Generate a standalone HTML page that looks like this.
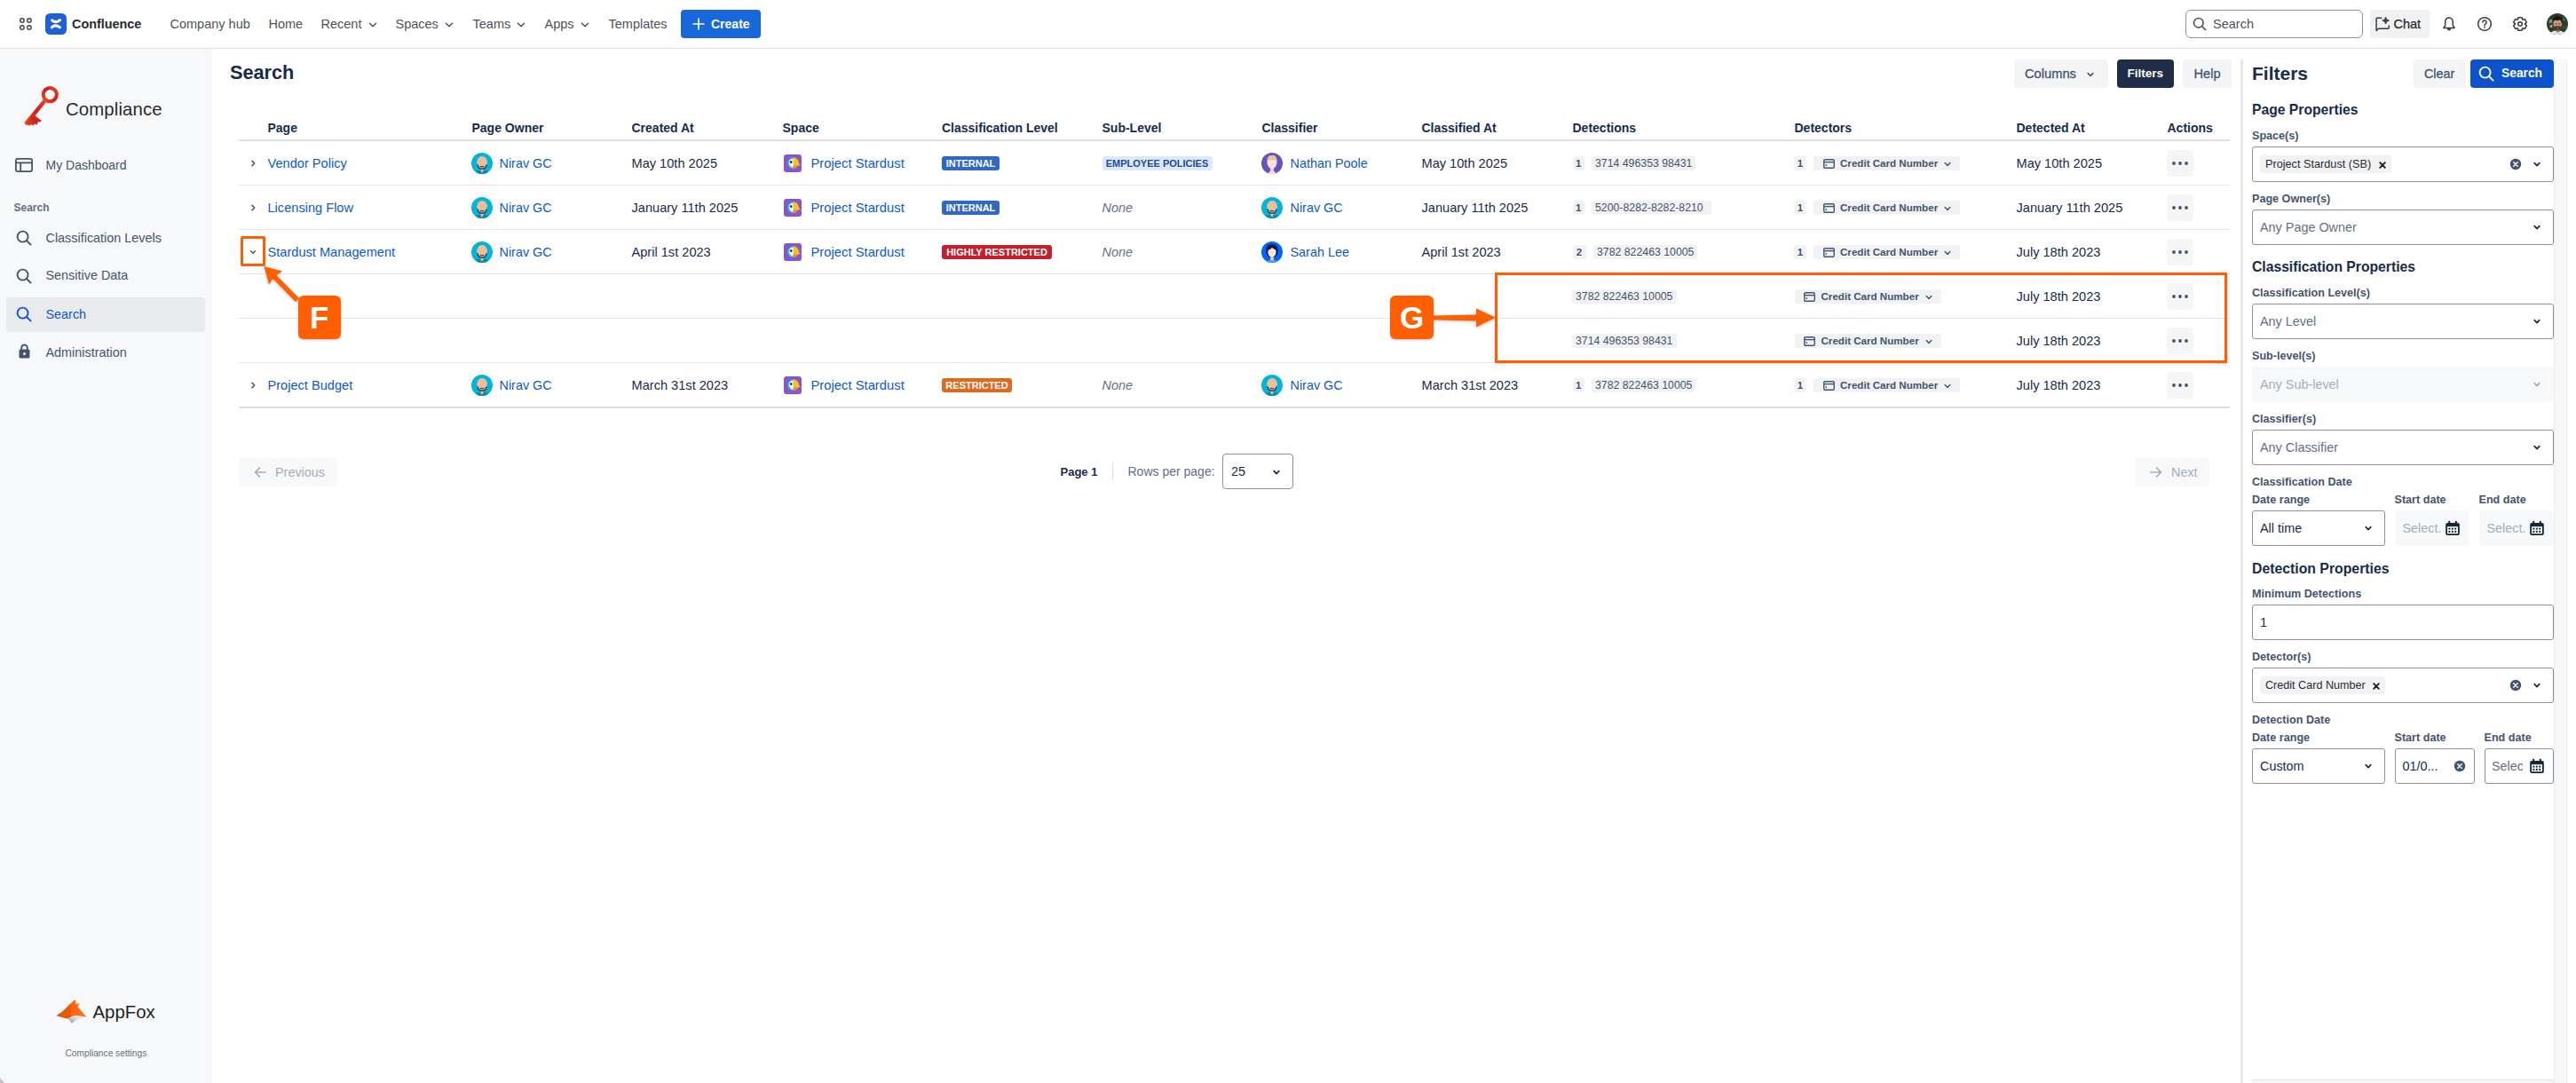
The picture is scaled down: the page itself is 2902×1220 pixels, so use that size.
<!DOCTYPE html>
<html><head><meta charset="utf-8"><title>Search - Compliance</title>
<style>
html,body{margin:0;padding:0;}
body{width:2902px;height:1220px;position:relative;overflow:hidden;background:#fff;font-family:"Liberation Sans",sans-serif;}
.t{position:absolute;white-space:nowrap;}
.r{position:absolute;}
</style></head><body>
<div class="r" style="left:0px;top:54px;width:2902px;height:1px;background:#dcdfe4"></div>
<svg class="r" style="left:19px;top:18px;" width="20" height="18" viewBox="0 0 20 18"><circle cx="5.9" cy="5" r="2.25" fill="none" stroke="#44474f" stroke-width="1.45"/><circle cx="5.9" cy="12.9" r="2.25" fill="none" stroke="#44474f" stroke-width="1.45"/><circle cx="13.9" cy="5" r="2.25" fill="none" stroke="#44474f" stroke-width="1.45"/><circle cx="13.9" cy="12.9" r="2.25" fill="none" stroke="#44474f" stroke-width="1.45"/></svg>
<svg class="r" style="left:51px;top:15px;" width="24" height="24" viewBox="0 0 24 24"><rect width="24" height="24" rx="5.5" fill="#1b61d8"/><path d="M7.6 7.9Q12.2 11.6 16.6 7.7" fill="none" stroke="#fff" stroke-width="3.1" stroke-linecap="round"/><path d="M7.3 15.8Q11.6 12.1 16.4 15.9" fill="none" stroke="#fff" stroke-width="3.1" stroke-linecap="round"/></svg>
<div class="t" style="left:81px;top:16.5px;height:21px;line-height:21px;font-size:14.4px;font-weight:700;color:#292a2e;">Confluence</div>
<div class="t" style="left:191.5px;top:16.5px;height:21px;line-height:21px;font-size:14.5px;font-weight:400;color:#505258;">Company hub</div>
<div class="t" style="left:302.5px;top:16.5px;height:21px;line-height:21px;font-size:14.5px;font-weight:400;color:#505258;">Home</div>
<div class="t" style="left:361.5px;top:16.5px;height:21px;line-height:21px;font-size:14.5px;font-weight:400;color:#505258;">Recent</div>
<svg class="r" style="left:414px;top:21.5px;" width="12" height="12" viewBox="0 0 12 12"><path d="M2.40 4.20 L6.00 7.80 L9.60 4.20" fill="none" stroke="#505258" stroke-width="1.5" stroke-linecap="round" stroke-linejoin="round"/></svg>
<div class="t" style="left:445.5px;top:16.5px;height:21px;line-height:21px;font-size:14.5px;font-weight:400;color:#505258;">Spaces</div>
<svg class="r" style="left:500px;top:21.5px;" width="12" height="12" viewBox="0 0 12 12"><path d="M2.40 4.20 L6.00 7.80 L9.60 4.20" fill="none" stroke="#505258" stroke-width="1.5" stroke-linecap="round" stroke-linejoin="round"/></svg>
<div class="t" style="left:532.5px;top:16.5px;height:21px;line-height:21px;font-size:14.5px;font-weight:400;color:#505258;">Teams</div>
<svg class="r" style="left:581px;top:21.5px;" width="12" height="12" viewBox="0 0 12 12"><path d="M2.40 4.20 L6.00 7.80 L9.60 4.20" fill="none" stroke="#505258" stroke-width="1.5" stroke-linecap="round" stroke-linejoin="round"/></svg>
<div class="t" style="left:613.5px;top:16.5px;height:21px;line-height:21px;font-size:14.5px;font-weight:400;color:#505258;">Apps</div>
<svg class="r" style="left:653px;top:21.5px;" width="12" height="12" viewBox="0 0 12 12"><path d="M2.40 4.20 L6.00 7.80 L9.60 4.20" fill="none" stroke="#505258" stroke-width="1.5" stroke-linecap="round" stroke-linejoin="round"/></svg>
<div class="t" style="left:685.5px;top:16.5px;height:21px;line-height:21px;font-size:14.5px;font-weight:400;color:#505258;">Templates</div>
<div class="r" style="left:767px;top:11px;width:90px;height:32px;background:#1868db;border-radius:4px"></div>
<svg class="r" style="left:780px;top:20px;" width="14" height="14" viewBox="0 0 14 14"><path d="M7 1v12M1 7h12" stroke="#fff" stroke-width="1.6" stroke-linecap="round"/></svg>
<div class="t" style="left:801px;top:16.5px;height:21px;line-height:21px;font-size:14px;font-weight:700;color:#fff;">Create</div>
<div class="r" style="left:2462px;top:11px;width:200px;height:32px;border:1px solid #8c8f97;border-radius:6px;box-sizing:border-box"></div>
<svg class="r" style="left:2470px;top:19px;" width="16" height="16" viewBox="0 0 16 16"><circle cx="6.8" cy="6.8" r="5.3" fill="none" stroke="#505258" stroke-width="1.6"/><path d="M10.8 10.8l3.8 3.8" stroke="#505258" stroke-width="1.6" stroke-linecap="round"/></svg>
<div class="t" style="left:2493px;top:16.5px;height:21px;line-height:21px;font-size:14.5px;font-weight:400;color:#505258;">Search</div>
<div class="r" style="left:2670px;top:11px;width:67px;height:32px;background:#f0f1f2;border-radius:4px"></div>
<svg class="r" style="left:2675px;top:18px;" width="18" height="18" viewBox="0 0 18 18"><path d="M8.3 2.2H3.2Q2.1 2.2 2.1 3.3V16.4L4.6 14.3H15.3Q16.3 14.3 16.3 13.3V10.6" fill="none" stroke="#3b3d42" stroke-width="1.5" stroke-linejoin="round"/><path d="M12.6 1.2Q13 4.6 16.4 5.1Q13 5.6 12.6 9Q12.2 5.6 8.8 5.1Q12.2 4.6 12.6 1.2z" fill="#3b3d42" stroke="#3b3d42" stroke-width="1" stroke-linejoin="round"/></svg>
<div class="t" style="left:2696.5px;top:16.5px;height:21px;line-height:21px;font-size:14.5px;font-weight:400;color:#292a2e;-webkit-text-stroke:0.25px #292a2e">Chat</div>
<svg class="r" style="left:2750px;top:18px;" width="18" height="18" viewBox="0 0 18 18"><path d="M9 1.9C6.2 1.9 4.7 4.1 4.7 6.9V10.6L2.9 13.5H15.1L13.3 10.6V6.9C13.3 4.1 11.8 1.9 9 1.9z" fill="none" stroke="#3b3d42" stroke-width="1.5" stroke-linejoin="round"/><path d="M7.2 14.3a1.8 1.8 0 0 0 3.6 0z" fill="#3b3d42" stroke="#3b3d42" stroke-width="1"/></svg>
<svg class="r" style="left:2790px;top:18px;" width="18" height="18" viewBox="0 0 18 18"><circle cx="9" cy="9" r="7.3" fill="none" stroke="#3b3d42" stroke-width="1.5"/><path d="M6.9 7.1a2.1 2.1 0 1 1 3.1 1.9c-0.6 0.4-1 0.8-1 1.5v0.5" fill="none" stroke="#3b3d42" stroke-width="1.5" stroke-linecap="round"/><circle cx="9" cy="12.9" r="0.9" fill="#3b3d42"/></svg>
<svg class="r" style="left:2829.5px;top:18px;" width="18" height="18" viewBox="0 0 18 18"><path d="M5.87 4.36 L7.03 1.66 L10.97 1.66 L12.13 4.36 L11.45 3.97 L14.37 3.63 L16.34 7.03 L14.59 9.39 L14.59 8.61 L16.34 10.97 L14.37 14.37 L11.45 14.03 L12.13 13.64 L10.97 16.34 L7.03 16.34 L5.87 13.64 L6.55 14.03 L3.63 14.37 L1.66 10.97 L3.41 8.61 L3.41 9.39 L1.66 7.03 L3.63 3.63 L6.55 3.97z" fill="none" stroke="#3b3d42" stroke-width="1.5" stroke-linejoin="round"/><circle cx="9" cy="9" r="2.3" fill="none" stroke="#3b3d42" stroke-width="1.5"/></svg>
<svg class="r" style="left:2869px;top:14.7px;" width="24" height="24" viewBox="0 0 24 24"><defs><clipPath id="av"><circle cx="12" cy="12" r="12"/></clipPath></defs><g clip-path="url(#av)"><rect width="24" height="24" fill="#2f3d28"/><circle cx="4.5" cy="9" r="2.2" fill="#7d8a78"/><circle cx="5" cy="14.5" r="1.6" fill="#a7ada3"/><circle cx="19.5" cy="7" r="1.8" fill="#556648"/><circle cx="20.5" cy="16" r="2" fill="#3f5034"/><path d="M3 24c1.2-3.2 4.5-4.6 9-4.6s7.8 1.4 9 4.6z" fill="#e6e5ee"/><path d="M10.5 16.5h4l0.4 4-2.4 1.3-2.4-1.3z" fill="#a0705a"/><ellipse cx="12.3" cy="12" rx="4.9" ry="6.2" fill="#c8977d"/><path d="M7 9.5c-0.3-4 2-6.5 5.5-6.5s5.7 2.4 5.3 6.7l-0.9 2.4c-0.2-2.5-0.9-4-1.8-4.6-1.8 0.6-4 0.6-6.3-0.1-0.8 0.7-1.2 1.6-1.3 3z" fill="#17161a"/><ellipse cx="10.6" cy="11.9" rx="1.1" ry="0.6" fill="#4a3a34"/><ellipse cx="14.3" cy="11.9" rx="1.1" ry="0.6" fill="#4a3a34"/><path d="M7.8 13.5c0.6 3.8 2.3 5.6 4.5 5.6s3.9-1.8 4.5-5.6c-0.8 1-1.6 1.3-2.4 1.3-1.3-0.6-2.9-0.6-4.2 0-0.8 0-1.6-0.3-2.4-1.3z" fill="#4a3328"/><ellipse cx="12.4" cy="16.6" rx="1.2" ry="0.6" fill="#c07070"/></g></svg>
<div class="r" style="left:0px;top:55px;width:239px;height:1165px;background:#f7f8f9"></div>
<svg class="r" style="left:20px;top:90px;" width="60" height="60" viewBox="0 0 60 60"><defs><linearGradient id="kg" x1="0" y1="1" x2="1" y2="0"><stop offset="0" stop-color="#ee4a17"/><stop offset="0.55" stop-color="#c81f1f"/><stop offset="1" stop-color="#e8491a"/></linearGradient></defs><circle cx="36.3" cy="16.6" r="7.6" fill="none" stroke="url(#kg)" stroke-width="4"/><path d="M30.8 23.2 L10 48.5" stroke="url(#kg)" stroke-width="4.4" stroke-linecap="round"/><path d="M18.5 39.5 L26.8 45.8 L25.2 47.6 L23 47 L21.6 50.8 L19.2 49.6 L17.4 51.4 L15.2 50.2 L13.2 51.6 L9 49.5z" fill="url(#kg)"/></svg>
<div class="t" style="left:74px;top:108.0px;height:30px;line-height:30px;font-size:20.4px;font-weight:400;color:#292a2e;letter-spacing:0.1px">Compliance</div>
<svg class="r" style="left:17px;top:178px;" width="20" height="16" viewBox="0 0 20 16"><rect x="0.9" y="0.9" width="18.2" height="14.2" rx="2" fill="none" stroke="#44546f" stroke-width="1.8"/><path d="M0.9 5.3h18.2M6.2 5.3v9.8" stroke="#44546f" stroke-width="1.8"/></svg>
<div class="t" style="left:51.5px;top:175.5px;height:21px;line-height:21px;font-size:14px;font-weight:400;color:#44546f;">My Dashboard</div>
<div class="t" style="left:15.5px;top:224.6px;height:18px;line-height:18px;font-size:12px;font-weight:700;color:#626f86;">Search</div>
<svg class="r" style="left:18px;top:259px;" width="18" height="18" viewBox="0 0 18 18"><circle cx="7.6" cy="7.6" r="6" fill="none" stroke="#44546f" stroke-width="1.9"/><path d="M12 12l4.6 4.6" stroke="#44546f" stroke-width="1.9" stroke-linecap="round"/></svg>
<div class="t" style="left:51.5px;top:257.5px;height:21px;line-height:21px;font-size:14.4px;font-weight:400;color:#44546f;">Classification Levels</div>
<svg class="r" style="left:18px;top:302px;" width="18" height="18" viewBox="0 0 18 18"><circle cx="7.6" cy="7.6" r="6" fill="none" stroke="#44546f" stroke-width="1.9"/><path d="M12 12l4.6 4.6" stroke="#44546f" stroke-width="1.9" stroke-linecap="round"/></svg>
<div class="t" style="left:51.5px;top:300.2px;height:21px;line-height:21px;font-size:14.4px;font-weight:400;color:#44546f;">Sensitive Data</div>
<div class="r" style="left:7px;top:334.5px;width:224px;height:39px;background:#e9eaee;border-radius:4px"></div>
<svg class="r" style="left:18px;top:345px;" width="18" height="18" viewBox="0 0 18 18"><circle cx="7.6" cy="7.6" r="6" fill="none" stroke="#0c55d0" stroke-width="1.9"/><path d="M12 12l4.6 4.6" stroke="#0c55d0" stroke-width="1.9" stroke-linecap="round"/></svg>
<div class="t" style="left:51.5px;top:343.5px;height:21px;line-height:21px;font-size:14.4px;font-weight:400;color:#0c55d0;">Search</div>
<svg class="r" style="left:21px;top:387px;" width="13" height="17" viewBox="0 0 13 17"><path d="M3.2 7V4.8a3.3 3.3 0 0 1 6.6 0V7" fill="none" stroke="#44546f" stroke-width="1.9"/><rect x="0.5" y="6.6" width="12" height="10" rx="1.6" fill="#44546f"/><circle cx="6.5" cy="11.6" r="1.5" fill="#f7f8f9"/></svg>
<div class="t" style="left:51.5px;top:386.5px;height:21px;line-height:21px;font-size:14.4px;font-weight:400;color:#44546f;">Administration</div>
<svg class="r" style="left:58px;top:1120px;" width="46" height="38" viewBox="0 0 46 38"><defs><linearGradient id="fg" x1="0" y1="0" x2="1" y2="0"><stop offset="0" stop-color="#e2550a"/><stop offset="0.45" stop-color="#ec5a06"/><stop offset="0.5" stop-color="#ff650a"/><stop offset="1" stop-color="#fb7426"/></linearGradient><linearGradient id="wg" x1="0" y1="1" x2="1" y2="0"><stop offset="0" stop-color="#8e8e8e"/><stop offset="0.6" stop-color="#dcdfe2"/><stop offset="1" stop-color="#f4f5f7"/></linearGradient></defs><path d="M5.3 24.2C10 21.5 13.5 18.5 17 15C21 11 24 8 27 6.1L27.4 11.2L31.9 10.2L29.5 13.7C33 18 36 22 40 25.6L26 23.8L18.2 27.7Z" fill="url(#fg)"/><path d="M18.6 27.6L23.3 33C26.5 29 32 26.8 38.5 26L26 24.2Z" fill="url(#wg)"/></svg>
<div class="t" style="left:104.5px;top:1126.0px;height:28px;line-height:28px;font-size:20.4px;font-weight:400;color:#1f1f1f;">AppFox</div>
<div class="t" style="left:73.5px;top:1180.0px;height:14px;line-height:14px;font-size:10.2px;font-weight:400;color:#6b6e76;">Compliance settings</div>
<div class="t" style="left:259px;top:67.0px;height:30px;line-height:30px;font-size:21.7px;font-weight:700;color:#172b4d;">Search</div>
<div class="r" style="left:2269px;top:67px;width:106px;height:32px;background:#f3f4f6;border-radius:4px"></div>
<div class="t" style="left:2281px;top:72.0px;height:22px;line-height:22px;font-size:14.7px;font-weight:400;color:#44546f;-webkit-text-stroke:0.3px #44546f">Columns</div>
<svg class="r" style="left:2350px;top:78.5px;" width="10" height="10" viewBox="0 0 10 10"><path d="M2.2 3.6L5 6.4 7.8 3.6" fill="none" stroke="#44546f" stroke-width="1.7" stroke-linecap="round" stroke-linejoin="round"/></svg>
<div class="r" style="left:2385px;top:67px;width:64px;height:32px;background:#1f2d48;border-radius:4px"></div>
<div class="t" style="left:2396.5px;top:73.0px;height:20px;line-height:20px;font-size:13.5px;font-weight:700;color:#fff;">Filters</div>
<div class="r" style="left:2459px;top:67px;width:55px;height:32px;background:#f3f4f6;border-radius:4px"></div>
<div class="t" style="left:2471.5px;top:72.5px;height:21px;line-height:21px;font-size:14.6px;font-weight:400;color:#44546f;-webkit-text-stroke:0.3px #44546f">Help</div>
<div class="t" style="left:301.5px;top:133.5px;height:21px;line-height:21px;font-size:14px;font-weight:700;color:#172b4d;">Page</div>
<div class="t" style="left:531.5px;top:133.5px;height:21px;line-height:21px;font-size:14px;font-weight:700;color:#172b4d;">Page Owner</div>
<div class="t" style="left:711.5px;top:133.5px;height:21px;line-height:21px;font-size:14px;font-weight:700;color:#172b4d;">Created At</div>
<div class="t" style="left:881.5px;top:133.5px;height:21px;line-height:21px;font-size:14px;font-weight:700;color:#172b4d;">Space</div>
<div class="t" style="left:1061px;top:133.5px;height:21px;line-height:21px;font-size:14px;font-weight:700;color:#172b4d;">Classification Level</div>
<div class="t" style="left:1241.5px;top:133.5px;height:21px;line-height:21px;font-size:14px;font-weight:700;color:#172b4d;">Sub-Level</div>
<div class="t" style="left:1421.5px;top:133.5px;height:21px;line-height:21px;font-size:14px;font-weight:700;color:#172b4d;">Classifier</div>
<div class="t" style="left:1601.5px;top:133.5px;height:21px;line-height:21px;font-size:14px;font-weight:700;color:#172b4d;">Classified At</div>
<div class="t" style="left:1771.5px;top:133.5px;height:21px;line-height:21px;font-size:14px;font-weight:700;color:#172b4d;">Detections</div>
<div class="t" style="left:2021.5px;top:133.5px;height:21px;line-height:21px;font-size:14px;font-weight:700;color:#172b4d;">Detectors</div>
<div class="t" style="left:2271.5px;top:133.5px;height:21px;line-height:21px;font-size:14px;font-weight:700;color:#172b4d;">Detected At</div>
<div class="t" style="left:2441.5px;top:133.5px;height:21px;line-height:21px;font-size:14px;font-weight:700;color:#172b4d;">Actions</div>
<div class="r" style="left:269px;top:157px;width:2243px;height:2px;background:#dcdfe4"></div>
<div class="r" style="left:269px;top:208px;width:2243px;height:1px;background:#e4e6ea"></div>
<div class="r" style="left:269px;top:258px;width:2243px;height:1px;background:#e4e6ea"></div>
<div class="r" style="left:269px;top:308px;width:2243px;height:1px;background:#e4e6ea"></div>
<div class="r" style="left:269px;top:358px;width:2243px;height:1px;background:#e4e6ea"></div>
<div class="r" style="left:269px;top:408px;width:2243px;height:1px;background:#e4e6ea"></div>
<div class="r" style="left:269px;top:458px;width:2243px;height:2px;background:#dcdfe4"></div>
<svg class="r" style="left:280px;top:179px;" width="10" height="10" viewBox="0 0 10 10"><path d="M4 2.4L6.7 5 4 7.6" fill="none" stroke="#44546f" stroke-width="1.55" stroke-linecap="round" stroke-linejoin="round"/></svg>
<div class="t" style="left:301.5px;top:173.5px;height:21px;line-height:21px;font-size:14.6px;font-weight:400;color:#0c58d4;">Vendor Policy</div>
<svg class="r" style="left:531px;top:172px;" width="24" height="24" viewBox="0 0 24 24"><defs><clipPath id="ca"><circle cx="12" cy="12" r="12"/></clipPath></defs><g clip-path="url(#ca)"><rect width="24" height="24" fill="#00b5d8"/><path d="M3 24.5L5.5 20.6 10 19.4 12 22.6 14 19.4 18.5 20.6 21 24.5z" fill="#0a8aa6"/><path d="M10.3 16.5h3.4v3.2L12 23l-1.7-3.3z" fill="#efbd92"/><ellipse cx="12.1" cy="10.8" rx="5.9" ry="6.7" fill="#ebbf99"/><path d="M7 13.4Q7.9 18.3 12.1 18.3Q16.3 18.3 17.2 13.4" fill="none" stroke="#344563" stroke-width="1.5"/><path d="M10 15.4Q12.1 16.2 14.2 15.4" fill="none" stroke="#344563" stroke-width="1.2"/></g></svg>
<div class="t" style="left:562.5px;top:173.5px;height:21px;line-height:21px;font-size:14.4px;font-weight:400;color:#0c58d4;">Nirav GC</div>
<div class="t" style="left:711.5px;top:173.5px;height:21px;line-height:21px;font-size:14.6px;font-weight:400;color:#172b4d;">May 10th 2025</div>
<svg class="r" style="left:883px;top:174px;" width="20" height="20" viewBox="0 0 20 20"><rect width="20" height="20" rx="3" fill="#8655cf"/><path d="M10.8 3.2a6.4 6.4 0 0 0 0 12.8z" fill="#2fd3c0"/><path d="M10.8 4.8a4.8 4.8 0 0 0 0 9.6z" fill="#fff"/><path d="M10.8 3.2c3.4 0.2 6 2.9 6.1 6.2l1.8 3.4-2.6-0.6c-1 2.2-3 3.7-5.3 3.8z" fill="#fbbf1f"/><path d="M10.8 12.2l4.6 0.6c-1 1.8-2.6 3-4.6 3.2z" fill="#f08a12"/><circle cx="8.2" cy="8.6" r="1.35" fill="#091e42"/></svg>
<div class="t" style="left:913.5px;top:173.0px;height:22px;line-height:22px;font-size:14.8px;font-weight:400;color:#0c58d4;">Project Stardust</div>
<div class="r" style="left:1061px;top:176px;width:65px;height:16px;background:#3068c2;border-radius:3px"></div>
<div class="t" style="left:1061px;top:176.0px;height:16px;line-height:16px;font-size:11px;font-weight:700;color:#fff;width:65px;text-align:center">INTERNAL</div>
<div class="r" style="left:1241.5px;top:176px;width:124px;height:16px;background:#dce8fb;border-radius:3px"></div>
<div class="t" style="left:1241.5px;top:176.0px;height:16px;line-height:16px;font-size:11px;font-weight:700;color:#1f4a99;width:124px;text-align:center">EMPLOYEE POLICIES</div>
<svg class="r" style="left:1421px;top:172px;" width="24" height="24" viewBox="0 0 24 24"><defs><clipPath id="cb"><circle cx="12" cy="12" r="12"/></clipPath></defs><g clip-path="url(#cb)"><rect width="24" height="24" fill="#6554c0"/><path d="M7.5 23c1-1.6 2.4-2.3 4.5-2.3s3.5 0.7 4.5 2.3l-0.5 1.5h-8z" fill="#fde1d8"/><path d="M10 15.5h4v6h-4z" fill="#f3cfc4"/><path d="M6.6 9.2c0-4.2 2.3-6.1 5.4-6.1s5.4 1.9 5.4 6.1v2.2c0 3.4-2.6 6.4-5.4 6.4s-5.4-3-5.4-6.4z" fill="#fde1d8"/><path d="M6.6 9.6c0-4.6 2.3-6.5 5.4-6.5s5.4 1.9 5.4 6.5c-1.2-1.2-3.2-1.6-5.4-1.6s-4.2 0.4-5.4 1.6z" fill="#eac08f"/></g></svg>
<div class="t" style="left:1453.5px;top:173.5px;height:21px;line-height:21px;font-size:14.4px;font-weight:400;color:#0c58d4;">Nathan Poole</div>
<div class="t" style="left:1601.5px;top:173.5px;height:21px;line-height:21px;font-size:14.6px;font-weight:400;color:#172b4d;">May 10th 2025</div>
<div class="r" style="left:1771.5px;top:176px;width:13.5px;height:16px;background:#f1f2f4;border-radius:3px"></div>
<div class="t" style="left:1771.5px;top:176.0px;height:16px;line-height:16px;font-size:11.5px;font-weight:700;color:#44546f;width:13.5px;text-align:center">1</div>
<div class="r" style="left:1793px;top:176px;width:117px;height:16px;background:#f1f2f4;border-radius:3px"></div>
<div class="t" style="left:1797px;top:176.0px;height:16px;line-height:16px;font-size:12.3px;font-weight:400;color:#44546f;">3714 496353 98431</div>
<div class="r" style="left:2021px;top:176px;width:14px;height:16px;background:#f1f2f4;border-radius:3px"></div>
<div class="t" style="left:2021px;top:176.0px;height:16px;line-height:16px;font-size:11.5px;font-weight:700;color:#44546f;width:14px;text-align:center">1</div>
<div class="r" style="left:2043px;top:176px;width:165px;height:16px;background:#f1f2f4;border-radius:3px"></div>
<svg class="r" style="left:2053.5px;top:178.5px;" width="13" height="11" viewBox="0 0 13 11"><rect x="0.75" y="0.75" width="11.5" height="9.5" rx="1.2" fill="none" stroke="#44546f" stroke-width="1.4"/><path d="M0.75 3.6h11.5" stroke="#44546f" stroke-width="1.4"/><rect x="2.4" y="6.3" width="1.6" height="1.6" fill="#44546f"/></svg>
<div class="t" style="left:2073px;top:176.0px;height:16px;line-height:16px;font-size:11.6px;font-weight:700;color:#44546f;">Credit Card Number</div>
<svg class="r" style="left:2189px;top:179.5px;" width="10" height="10" viewBox="0 0 10 10"><path d="M2.2 3.6L5 6.6 7.8 3.6" fill="none" stroke="#44546f" stroke-width="1.4" stroke-linecap="round" stroke-linejoin="round"/></svg>
<div class="t" style="left:2271.5px;top:173.5px;height:21px;line-height:21px;font-size:14.6px;font-weight:400;color:#172b4d;">May 10th 2025</div>
<div class="r" style="left:2441px;top:169px;width:30px;height:30px;background:#f4f5f7;border-radius:4px"></div>
<svg class="r" style="left:2446px;top:181px;" width="20" height="6" viewBox="0 0 20 6"><circle cx="3" cy="3" r="1.9" fill="#44546f"/><circle cx="10" cy="3" r="1.9" fill="#44546f"/><circle cx="17" cy="3" r="1.9" fill="#44546f"/></svg>
<svg class="r" style="left:280px;top:229px;" width="10" height="10" viewBox="0 0 10 10"><path d="M4 2.4L6.7 5 4 7.6" fill="none" stroke="#44546f" stroke-width="1.55" stroke-linecap="round" stroke-linejoin="round"/></svg>
<div class="t" style="left:301.5px;top:223.5px;height:21px;line-height:21px;font-size:14.6px;font-weight:400;color:#0c58d4;">Licensing Flow</div>
<svg class="r" style="left:531px;top:222px;" width="24" height="24" viewBox="0 0 24 24"><defs><clipPath id="ca"><circle cx="12" cy="12" r="12"/></clipPath></defs><g clip-path="url(#ca)"><rect width="24" height="24" fill="#00b5d8"/><path d="M3 24.5L5.5 20.6 10 19.4 12 22.6 14 19.4 18.5 20.6 21 24.5z" fill="#0a8aa6"/><path d="M10.3 16.5h3.4v3.2L12 23l-1.7-3.3z" fill="#efbd92"/><ellipse cx="12.1" cy="10.8" rx="5.9" ry="6.7" fill="#ebbf99"/><path d="M7 13.4Q7.9 18.3 12.1 18.3Q16.3 18.3 17.2 13.4" fill="none" stroke="#344563" stroke-width="1.5"/><path d="M10 15.4Q12.1 16.2 14.2 15.4" fill="none" stroke="#344563" stroke-width="1.2"/></g></svg>
<div class="t" style="left:562.5px;top:223.5px;height:21px;line-height:21px;font-size:14.4px;font-weight:400;color:#0c58d4;">Nirav GC</div>
<div class="t" style="left:711.5px;top:223.5px;height:21px;line-height:21px;font-size:14.6px;font-weight:400;color:#172b4d;">January 11th 2025</div>
<svg class="r" style="left:883px;top:224px;" width="20" height="20" viewBox="0 0 20 20"><rect width="20" height="20" rx="3" fill="#8655cf"/><path d="M10.8 3.2a6.4 6.4 0 0 0 0 12.8z" fill="#2fd3c0"/><path d="M10.8 4.8a4.8 4.8 0 0 0 0 9.6z" fill="#fff"/><path d="M10.8 3.2c3.4 0.2 6 2.9 6.1 6.2l1.8 3.4-2.6-0.6c-1 2.2-3 3.7-5.3 3.8z" fill="#fbbf1f"/><path d="M10.8 12.2l4.6 0.6c-1 1.8-2.6 3-4.6 3.2z" fill="#f08a12"/><circle cx="8.2" cy="8.6" r="1.35" fill="#091e42"/></svg>
<div class="t" style="left:913.5px;top:223.0px;height:22px;line-height:22px;font-size:14.8px;font-weight:400;color:#0c58d4;">Project Stardust</div>
<div class="r" style="left:1061px;top:226px;width:65px;height:16px;background:#3068c2;border-radius:3px"></div>
<div class="t" style="left:1061px;top:226.0px;height:16px;line-height:16px;font-size:11px;font-weight:700;color:#fff;width:65px;text-align:center">INTERNAL</div>
<div class="t" style="left:1241.5px;top:223.5px;height:21px;line-height:21px;font-size:14.4px;font-weight:400;color:#626f86;font-style:italic">None</div>
<svg class="r" style="left:1421px;top:222px;" width="24" height="24" viewBox="0 0 24 24"><defs><clipPath id="ca"><circle cx="12" cy="12" r="12"/></clipPath></defs><g clip-path="url(#ca)"><rect width="24" height="24" fill="#00b5d8"/><path d="M3 24.5L5.5 20.6 10 19.4 12 22.6 14 19.4 18.5 20.6 21 24.5z" fill="#0a8aa6"/><path d="M10.3 16.5h3.4v3.2L12 23l-1.7-3.3z" fill="#efbd92"/><ellipse cx="12.1" cy="10.8" rx="5.9" ry="6.7" fill="#ebbf99"/><path d="M7 13.4Q7.9 18.3 12.1 18.3Q16.3 18.3 17.2 13.4" fill="none" stroke="#344563" stroke-width="1.5"/><path d="M10 15.4Q12.1 16.2 14.2 15.4" fill="none" stroke="#344563" stroke-width="1.2"/></g></svg>
<div class="t" style="left:1453.5px;top:223.5px;height:21px;line-height:21px;font-size:14.4px;font-weight:400;color:#0c58d4;">Nirav GC</div>
<div class="t" style="left:1601.5px;top:223.5px;height:21px;line-height:21px;font-size:14.6px;font-weight:400;color:#172b4d;">January 11th 2025</div>
<div class="r" style="left:1771.5px;top:226px;width:13.5px;height:16px;background:#f1f2f4;border-radius:3px"></div>
<div class="t" style="left:1771.5px;top:226.0px;height:16px;line-height:16px;font-size:11.5px;font-weight:700;color:#44546f;width:13.5px;text-align:center">1</div>
<div class="r" style="left:1793px;top:226px;width:135px;height:16px;background:#f1f2f4;border-radius:3px"></div>
<div class="t" style="left:1797px;top:226.0px;height:16px;line-height:16px;font-size:12.3px;font-weight:400;color:#44546f;">5200-8282-8282-8210</div>
<div class="r" style="left:2021px;top:226px;width:14px;height:16px;background:#f1f2f4;border-radius:3px"></div>
<div class="t" style="left:2021px;top:226.0px;height:16px;line-height:16px;font-size:11.5px;font-weight:700;color:#44546f;width:14px;text-align:center">1</div>
<div class="r" style="left:2043px;top:226px;width:165px;height:16px;background:#f1f2f4;border-radius:3px"></div>
<svg class="r" style="left:2053.5px;top:228.5px;" width="13" height="11" viewBox="0 0 13 11"><rect x="0.75" y="0.75" width="11.5" height="9.5" rx="1.2" fill="none" stroke="#44546f" stroke-width="1.4"/><path d="M0.75 3.6h11.5" stroke="#44546f" stroke-width="1.4"/><rect x="2.4" y="6.3" width="1.6" height="1.6" fill="#44546f"/></svg>
<div class="t" style="left:2073px;top:226.0px;height:16px;line-height:16px;font-size:11.6px;font-weight:700;color:#44546f;">Credit Card Number</div>
<svg class="r" style="left:2189px;top:229.5px;" width="10" height="10" viewBox="0 0 10 10"><path d="M2.2 3.6L5 6.6 7.8 3.6" fill="none" stroke="#44546f" stroke-width="1.4" stroke-linecap="round" stroke-linejoin="round"/></svg>
<div class="t" style="left:2271.5px;top:223.5px;height:21px;line-height:21px;font-size:14.6px;font-weight:400;color:#172b4d;">January 11th 2025</div>
<div class="r" style="left:2441px;top:219px;width:30px;height:30px;background:#f4f5f7;border-radius:4px"></div>
<svg class="r" style="left:2446px;top:231px;" width="20" height="6" viewBox="0 0 20 6"><circle cx="3" cy="3" r="1.9" fill="#44546f"/><circle cx="10" cy="3" r="1.9" fill="#44546f"/><circle cx="17" cy="3" r="1.9" fill="#44546f"/></svg>
<svg class="r" style="left:280px;top:279px;" width="10" height="10" viewBox="0 0 10 10"><path d="M2.5 3.7L5 6.2 7.5 3.7" fill="none" stroke="#44546f" stroke-width="1.4" stroke-linecap="round" stroke-linejoin="round"/></svg>
<div class="t" style="left:301.5px;top:273.5px;height:21px;line-height:21px;font-size:14.6px;font-weight:400;color:#0c58d4;">Stardust Management</div>
<svg class="r" style="left:531px;top:272px;" width="24" height="24" viewBox="0 0 24 24"><defs><clipPath id="ca"><circle cx="12" cy="12" r="12"/></clipPath></defs><g clip-path="url(#ca)"><rect width="24" height="24" fill="#00b5d8"/><path d="M3 24.5L5.5 20.6 10 19.4 12 22.6 14 19.4 18.5 20.6 21 24.5z" fill="#0a8aa6"/><path d="M10.3 16.5h3.4v3.2L12 23l-1.7-3.3z" fill="#efbd92"/><ellipse cx="12.1" cy="10.8" rx="5.9" ry="6.7" fill="#ebbf99"/><path d="M7 13.4Q7.9 18.3 12.1 18.3Q16.3 18.3 17.2 13.4" fill="none" stroke="#344563" stroke-width="1.5"/><path d="M10 15.4Q12.1 16.2 14.2 15.4" fill="none" stroke="#344563" stroke-width="1.2"/></g></svg>
<div class="t" style="left:562.5px;top:273.5px;height:21px;line-height:21px;font-size:14.4px;font-weight:400;color:#0c58d4;">Nirav GC</div>
<div class="t" style="left:711.5px;top:273.5px;height:21px;line-height:21px;font-size:14.6px;font-weight:400;color:#172b4d;">April 1st 2023</div>
<svg class="r" style="left:883px;top:274px;" width="20" height="20" viewBox="0 0 20 20"><rect width="20" height="20" rx="3" fill="#8655cf"/><path d="M10.8 3.2a6.4 6.4 0 0 0 0 12.8z" fill="#2fd3c0"/><path d="M10.8 4.8a4.8 4.8 0 0 0 0 9.6z" fill="#fff"/><path d="M10.8 3.2c3.4 0.2 6 2.9 6.1 6.2l1.8 3.4-2.6-0.6c-1 2.2-3 3.7-5.3 3.8z" fill="#fbbf1f"/><path d="M10.8 12.2l4.6 0.6c-1 1.8-2.6 3-4.6 3.2z" fill="#f08a12"/><circle cx="8.2" cy="8.6" r="1.35" fill="#091e42"/></svg>
<div class="t" style="left:913.5px;top:273.0px;height:22px;line-height:22px;font-size:14.8px;font-weight:400;color:#0c58d4;">Project Stardust</div>
<div class="r" style="left:1061px;top:276px;width:124px;height:16px;background:#c2202d;border-radius:3px"></div>
<div class="t" style="left:1061px;top:276.0px;height:16px;line-height:16px;font-size:11px;font-weight:700;color:#fff;width:124px;text-align:center">HIGHLY RESTRICTED</div>
<div class="t" style="left:1241.5px;top:273.5px;height:21px;line-height:21px;font-size:14.4px;font-weight:400;color:#626f86;font-style:italic">None</div>
<svg class="r" style="left:1421px;top:272px;" width="24" height="24" viewBox="0 0 24 24"><defs><clipPath id="cc"><circle cx="12" cy="12" r="12"/></clipPath></defs><g clip-path="url(#cc)"><rect width="24" height="24" fill="#0065ff"/><path d="M5 24.5c1-2.6 3.2-3.7 7-3.7s6 1.1 7 3.7z" fill="#4c9aff"/><path d="M10.2 16h3.6v5.2h-3.6z" fill="#f2cfc3"/><path d="M5.4 12c-0.8-5.8 2-9 6.6-9s7.4 3.2 6.6 9c-0.3 2.6-1.6 4.5-3 5.6h-7.2c-1.4-1.1-2.7-3-3-5.6z" fill="#091e42"/><path d="M7.4 11.5c0.2-1.4 0.9-2.2 2.2-2.7 1.2-0.4 2-1.2 2.4-2.3 0.6 1.3 1.8 2.2 3.4 2.4 0.8 0.5 1.2 1.4 1.2 2.6 0 3.5-2.1 6.3-4.6 6.3s-4.8-2.8-4.6-6.3z" fill="#fde1d8"/></g></svg>
<div class="t" style="left:1453.5px;top:273.5px;height:21px;line-height:21px;font-size:14.4px;font-weight:400;color:#0c58d4;">Sarah Lee</div>
<div class="t" style="left:1601.5px;top:273.5px;height:21px;line-height:21px;font-size:14.6px;font-weight:400;color:#172b4d;">April 1st 2023</div>
<div class="r" style="left:1771.5px;top:276px;width:15px;height:16px;background:#f1f2f4;border-radius:3px"></div>
<div class="t" style="left:1771.5px;top:276.0px;height:16px;line-height:16px;font-size:11.5px;font-weight:700;color:#44546f;width:15px;text-align:center">2</div>
<div class="r" style="left:1795px;top:276px;width:117px;height:16px;background:#f1f2f4;border-radius:3px"></div>
<div class="t" style="left:1799px;top:276.0px;height:16px;line-height:16px;font-size:12.3px;font-weight:400;color:#44546f;">3782 822463 10005</div>
<div class="r" style="left:2021px;top:276px;width:14px;height:16px;background:#f1f2f4;border-radius:3px"></div>
<div class="t" style="left:2021px;top:276.0px;height:16px;line-height:16px;font-size:11.5px;font-weight:700;color:#44546f;width:14px;text-align:center">1</div>
<div class="r" style="left:2043px;top:276px;width:165px;height:16px;background:#f1f2f4;border-radius:3px"></div>
<svg class="r" style="left:2053.5px;top:278.5px;" width="13" height="11" viewBox="0 0 13 11"><rect x="0.75" y="0.75" width="11.5" height="9.5" rx="1.2" fill="none" stroke="#44546f" stroke-width="1.4"/><path d="M0.75 3.6h11.5" stroke="#44546f" stroke-width="1.4"/><rect x="2.4" y="6.3" width="1.6" height="1.6" fill="#44546f"/></svg>
<div class="t" style="left:2073px;top:276.0px;height:16px;line-height:16px;font-size:11.6px;font-weight:700;color:#44546f;">Credit Card Number</div>
<svg class="r" style="left:2189px;top:279.5px;" width="10" height="10" viewBox="0 0 10 10"><path d="M2.2 3.6L5 6.6 7.8 3.6" fill="none" stroke="#44546f" stroke-width="1.4" stroke-linecap="round" stroke-linejoin="round"/></svg>
<div class="t" style="left:2271.5px;top:273.5px;height:21px;line-height:21px;font-size:14.6px;font-weight:400;color:#172b4d;">July 18th 2023</div>
<div class="r" style="left:2441px;top:269px;width:30px;height:30px;background:#f4f5f7;border-radius:4px"></div>
<svg class="r" style="left:2446px;top:281px;" width="20" height="6" viewBox="0 0 20 6"><circle cx="3" cy="3" r="1.9" fill="#44546f"/><circle cx="10" cy="3" r="1.9" fill="#44546f"/><circle cx="17" cy="3" r="1.9" fill="#44546f"/></svg>
<svg class="r" style="left:280px;top:429px;" width="10" height="10" viewBox="0 0 10 10"><path d="M4 2.4L6.7 5 4 7.6" fill="none" stroke="#44546f" stroke-width="1.55" stroke-linecap="round" stroke-linejoin="round"/></svg>
<div class="t" style="left:301.5px;top:423.5px;height:21px;line-height:21px;font-size:14.6px;font-weight:400;color:#0c58d4;">Project Budget</div>
<svg class="r" style="left:531px;top:422px;" width="24" height="24" viewBox="0 0 24 24"><defs><clipPath id="ca"><circle cx="12" cy="12" r="12"/></clipPath></defs><g clip-path="url(#ca)"><rect width="24" height="24" fill="#00b5d8"/><path d="M3 24.5L5.5 20.6 10 19.4 12 22.6 14 19.4 18.5 20.6 21 24.5z" fill="#0a8aa6"/><path d="M10.3 16.5h3.4v3.2L12 23l-1.7-3.3z" fill="#efbd92"/><ellipse cx="12.1" cy="10.8" rx="5.9" ry="6.7" fill="#ebbf99"/><path d="M7 13.4Q7.9 18.3 12.1 18.3Q16.3 18.3 17.2 13.4" fill="none" stroke="#344563" stroke-width="1.5"/><path d="M10 15.4Q12.1 16.2 14.2 15.4" fill="none" stroke="#344563" stroke-width="1.2"/></g></svg>
<div class="t" style="left:562.5px;top:423.5px;height:21px;line-height:21px;font-size:14.4px;font-weight:400;color:#0c58d4;">Nirav GC</div>
<div class="t" style="left:711.5px;top:423.5px;height:21px;line-height:21px;font-size:14.6px;font-weight:400;color:#172b4d;">March 31st 2023</div>
<svg class="r" style="left:883px;top:424px;" width="20" height="20" viewBox="0 0 20 20"><rect width="20" height="20" rx="3" fill="#8655cf"/><path d="M10.8 3.2a6.4 6.4 0 0 0 0 12.8z" fill="#2fd3c0"/><path d="M10.8 4.8a4.8 4.8 0 0 0 0 9.6z" fill="#fff"/><path d="M10.8 3.2c3.4 0.2 6 2.9 6.1 6.2l1.8 3.4-2.6-0.6c-1 2.2-3 3.7-5.3 3.8z" fill="#fbbf1f"/><path d="M10.8 12.2l4.6 0.6c-1 1.8-2.6 3-4.6 3.2z" fill="#f08a12"/><circle cx="8.2" cy="8.6" r="1.35" fill="#091e42"/></svg>
<div class="t" style="left:913.5px;top:423.0px;height:22px;line-height:22px;font-size:14.8px;font-weight:400;color:#0c58d4;">Project Stardust</div>
<div class="r" style="left:1061px;top:426px;width:79px;height:16px;background:#de6a21;border-radius:3px"></div>
<div class="t" style="left:1061px;top:426.0px;height:16px;line-height:16px;font-size:11px;font-weight:700;color:#fff;width:79px;text-align:center">RESTRICTED</div>
<div class="t" style="left:1241.5px;top:423.5px;height:21px;line-height:21px;font-size:14.4px;font-weight:400;color:#626f86;font-style:italic">None</div>
<svg class="r" style="left:1421px;top:422px;" width="24" height="24" viewBox="0 0 24 24"><defs><clipPath id="ca"><circle cx="12" cy="12" r="12"/></clipPath></defs><g clip-path="url(#ca)"><rect width="24" height="24" fill="#00b5d8"/><path d="M3 24.5L5.5 20.6 10 19.4 12 22.6 14 19.4 18.5 20.6 21 24.5z" fill="#0a8aa6"/><path d="M10.3 16.5h3.4v3.2L12 23l-1.7-3.3z" fill="#efbd92"/><ellipse cx="12.1" cy="10.8" rx="5.9" ry="6.7" fill="#ebbf99"/><path d="M7 13.4Q7.9 18.3 12.1 18.3Q16.3 18.3 17.2 13.4" fill="none" stroke="#344563" stroke-width="1.5"/><path d="M10 15.4Q12.1 16.2 14.2 15.4" fill="none" stroke="#344563" stroke-width="1.2"/></g></svg>
<div class="t" style="left:1453.5px;top:423.5px;height:21px;line-height:21px;font-size:14.4px;font-weight:400;color:#0c58d4;">Nirav GC</div>
<div class="t" style="left:1601.5px;top:423.5px;height:21px;line-height:21px;font-size:14.6px;font-weight:400;color:#172b4d;">March 31st 2023</div>
<div class="r" style="left:1771.5px;top:426px;width:13.5px;height:16px;background:#f1f2f4;border-radius:3px"></div>
<div class="t" style="left:1771.5px;top:426.0px;height:16px;line-height:16px;font-size:11.5px;font-weight:700;color:#44546f;width:13.5px;text-align:center">1</div>
<div class="r" style="left:1793px;top:426px;width:117px;height:16px;background:#f1f2f4;border-radius:3px"></div>
<div class="t" style="left:1797px;top:426.0px;height:16px;line-height:16px;font-size:12.3px;font-weight:400;color:#44546f;">3782 822463 10005</div>
<div class="r" style="left:2021px;top:426px;width:14px;height:16px;background:#f1f2f4;border-radius:3px"></div>
<div class="t" style="left:2021px;top:426.0px;height:16px;line-height:16px;font-size:11.5px;font-weight:700;color:#44546f;width:14px;text-align:center">1</div>
<div class="r" style="left:2043px;top:426px;width:165px;height:16px;background:#f1f2f4;border-radius:3px"></div>
<svg class="r" style="left:2053.5px;top:428.5px;" width="13" height="11" viewBox="0 0 13 11"><rect x="0.75" y="0.75" width="11.5" height="9.5" rx="1.2" fill="none" stroke="#44546f" stroke-width="1.4"/><path d="M0.75 3.6h11.5" stroke="#44546f" stroke-width="1.4"/><rect x="2.4" y="6.3" width="1.6" height="1.6" fill="#44546f"/></svg>
<div class="t" style="left:2073px;top:426.0px;height:16px;line-height:16px;font-size:11.6px;font-weight:700;color:#44546f;">Credit Card Number</div>
<svg class="r" style="left:2189px;top:429.5px;" width="10" height="10" viewBox="0 0 10 10"><path d="M2.2 3.6L5 6.6 7.8 3.6" fill="none" stroke="#44546f" stroke-width="1.4" stroke-linecap="round" stroke-linejoin="round"/></svg>
<div class="t" style="left:2271.5px;top:423.5px;height:21px;line-height:21px;font-size:14.6px;font-weight:400;color:#172b4d;">July 18th 2023</div>
<div class="r" style="left:2441px;top:419px;width:30px;height:30px;background:#f4f5f7;border-radius:4px"></div>
<svg class="r" style="left:2446px;top:431px;" width="20" height="6" viewBox="0 0 20 6"><circle cx="3" cy="3" r="1.9" fill="#44546f"/><circle cx="10" cy="3" r="1.9" fill="#44546f"/><circle cx="17" cy="3" r="1.9" fill="#44546f"/></svg>
<div class="r" style="left:1771px;top:326px;width:118px;height:16px;background:#f1f2f4;border-radius:3px"></div>
<div class="t" style="left:1775px;top:326.0px;height:16px;line-height:16px;font-size:12.3px;font-weight:400;color:#44546f;">3782 822463 10005</div>
<div class="r" style="left:2021.5px;top:326px;width:165px;height:16px;background:#f1f2f4;border-radius:3px"></div>
<svg class="r" style="left:2032.0px;top:328.5px;" width="13" height="11" viewBox="0 0 13 11"><rect x="0.75" y="0.75" width="11.5" height="9.5" rx="1.2" fill="none" stroke="#44546f" stroke-width="1.4"/><path d="M0.75 3.6h11.5" stroke="#44546f" stroke-width="1.4"/><rect x="2.4" y="6.3" width="1.6" height="1.6" fill="#44546f"/></svg>
<div class="t" style="left:2051.5px;top:326.0px;height:16px;line-height:16px;font-size:11.6px;font-weight:700;color:#44546f;">Credit Card Number</div>
<svg class="r" style="left:2167.5px;top:329.5px;" width="10" height="10" viewBox="0 0 10 10"><path d="M2.2 3.6L5 6.6 7.8 3.6" fill="none" stroke="#44546f" stroke-width="1.4" stroke-linecap="round" stroke-linejoin="round"/></svg>
<div class="t" style="left:2271.5px;top:323.5px;height:21px;line-height:21px;font-size:14.6px;font-weight:400;color:#172b4d;">July 18th 2023</div>
<div class="r" style="left:2441px;top:319px;width:30px;height:30px;background:#f4f5f7;border-radius:4px"></div>
<svg class="r" style="left:2446px;top:331px;" width="20" height="6" viewBox="0 0 20 6"><circle cx="3" cy="3" r="1.9" fill="#44546f"/><circle cx="10" cy="3" r="1.9" fill="#44546f"/><circle cx="17" cy="3" r="1.9" fill="#44546f"/></svg>
<div class="r" style="left:1771px;top:376px;width:118px;height:16px;background:#f1f2f4;border-radius:3px"></div>
<div class="t" style="left:1775px;top:376.0px;height:16px;line-height:16px;font-size:12.3px;font-weight:400;color:#44546f;">3714 496353 98431</div>
<div class="r" style="left:2021.5px;top:376px;width:165px;height:16px;background:#f1f2f4;border-radius:3px"></div>
<svg class="r" style="left:2032.0px;top:378.5px;" width="13" height="11" viewBox="0 0 13 11"><rect x="0.75" y="0.75" width="11.5" height="9.5" rx="1.2" fill="none" stroke="#44546f" stroke-width="1.4"/><path d="M0.75 3.6h11.5" stroke="#44546f" stroke-width="1.4"/><rect x="2.4" y="6.3" width="1.6" height="1.6" fill="#44546f"/></svg>
<div class="t" style="left:2051.5px;top:376.0px;height:16px;line-height:16px;font-size:11.6px;font-weight:700;color:#44546f;">Credit Card Number</div>
<svg class="r" style="left:2167.5px;top:379.5px;" width="10" height="10" viewBox="0 0 10 10"><path d="M2.2 3.6L5 6.6 7.8 3.6" fill="none" stroke="#44546f" stroke-width="1.4" stroke-linecap="round" stroke-linejoin="round"/></svg>
<div class="t" style="left:2271.5px;top:373.5px;height:21px;line-height:21px;font-size:14.6px;font-weight:400;color:#172b4d;">July 18th 2023</div>
<div class="r" style="left:2441px;top:369px;width:30px;height:30px;background:#f4f5f7;border-radius:4px"></div>
<svg class="r" style="left:2446px;top:381px;" width="20" height="6" viewBox="0 0 20 6"><circle cx="3" cy="3" r="1.9" fill="#44546f"/><circle cx="10" cy="3" r="1.9" fill="#44546f"/><circle cx="17" cy="3" r="1.9" fill="#44546f"/></svg>
<div class="r" style="left:269px;top:516px;width:111px;height:32px;background:#f7f8f9;border-radius:4px"></div>
<svg class="r" style="left:285px;top:524px;" width="16" height="16" viewBox="0 0 16 16"><path d="M14 8H2.5M7.5 3L2.5 8l5 5" fill="none" stroke="#a5adba" stroke-width="1.7" stroke-linecap="round" stroke-linejoin="round"/></svg>
<div class="t" style="left:310px;top:521.5px;height:21px;line-height:21px;font-size:14.4px;font-weight:400;color:#a5adba;">Previous</div>
<div class="t" style="left:1194.5px;top:521.5px;height:19px;line-height:19px;font-size:13px;font-weight:700;color:#172b4d;">Page 1</div>
<div class="r" style="left:1253px;top:521px;width:1px;height:20px;background:#dcdfe4"></div>
<div class="t" style="left:1270.5px;top:520.5px;height:21px;line-height:21px;font-size:14px;font-weight:400;color:#626f86;">Rows per page:</div>
<div class="r" style="left:1377px;top:511px;width:80px;height:40px;border:1.5px solid #8590a2;border-radius:4px;box-sizing:border-box"></div>
<div class="t" style="left:1387px;top:520.5px;height:21px;line-height:21px;font-size:14.4px;font-weight:400;color:#172b4d;">25</div>
<svg class="r" style="left:1433px;top:526.5px;" width="10" height="10" viewBox="0 0 10 10"><path d="M2.2 3.6L5 6.6 7.8 3.6" fill="none" stroke="#172b4d" stroke-width="1.7" stroke-linecap="round" stroke-linejoin="round"/></svg>
<div class="r" style="left:2405px;top:516px;width:84px;height:32px;background:#f7f8f9;border-radius:4px"></div>
<svg class="r" style="left:2421px;top:524px;" width="16" height="16" viewBox="0 0 16 16"><path d="M2 8h11.5M8.5 3l5 5-5 5" fill="none" stroke="#a5adba" stroke-width="1.7" stroke-linecap="round" stroke-linejoin="round"/></svg>
<div class="t" style="left:2446px;top:521.5px;height:21px;line-height:21px;font-size:14.4px;font-weight:400;color:#a5adba;">Next</div>
<div class="r" style="left:2524px;top:67px;width:3px;height:1153px;background:#e6e7eb"></div>
<div class="t" style="left:2537px;top:68.0px;height:30px;line-height:30px;font-size:21px;font-weight:700;color:#172b4d;">Filters</div>
<div class="r" style="left:2719px;top:67px;width:59px;height:32px;background:#f3f4f6;border-radius:4px"></div>
<div class="t" style="left:2731px;top:72.5px;height:21px;line-height:21px;font-size:14.3px;font-weight:400;color:#44546f;-webkit-text-stroke:0.3px #44546f">Clear</div>
<div class="r" style="left:2783px;top:67px;width:94px;height:32px;background:#0c52cc;border-radius:4px"></div>
<svg class="r" style="left:2792px;top:74px;" width="18" height="18" viewBox="0 0 18 18"><circle cx="7.6" cy="7.6" r="6" fill="none" stroke="#fff" stroke-width="1.9"/><path d="M12 12l4.6 4.6" stroke="#fff" stroke-width="1.9" stroke-linecap="round"/></svg>
<div class="t" style="left:2818px;top:73.0px;height:20px;line-height:20px;font-size:13.8px;font-weight:700;color:#fff;">Search</div>
<div class="r" style="left:2877px;top:67px;width:15px;height:1153px;background:#f7f7f7;border-left:1px solid #ececec;border-right:1px solid #ececec;box-sizing:border-box"></div>
<div class="r" style="left:2537px;top:1216px;width:340px;height:4px;background:#f7f7f7;border-top:1px solid #e2e2e2;box-sizing:border-box"></div>
<div class="t" style="left:2537px;top:113.0px;height:22px;line-height:22px;font-size:15.7px;font-weight:700;color:#172b4d;">Page Properties</div>
<div class="t" style="left:2537px;top:144.2px;height:18px;line-height:18px;font-size:12.6px;font-weight:700;color:#44546f;">Space(s)</div>
<div class="r" style="left:2537px;top:165px;width:340px;height:40px;border:1.5px solid #8590a2;border-radius:3px;box-sizing:border-box;background:#fff"></div>
<svg class="r" style="left:2853px;top:180px;" width="10" height="10" viewBox="0 0 10 10"><path d="M2.2 3.6L5 6.6 7.8 3.6" fill="none" stroke="#172b4d" stroke-width="1.7" stroke-linecap="round" stroke-linejoin="round"/></svg>
<div class="r" style="left:2546px;top:175px;width:148px;height:20px;background:#f1f2f4;border-radius:3px"></div>
<div class="t" style="left:2552px;top:176.0px;height:18px;line-height:18px;font-size:12.7px;font-weight:400;color:#292a2e;">Project Stardust (SB)</div>
<svg class="r" style="left:2680px;top:181.5px;" width="8" height="8" viewBox="0 0 8 8"><path d="M1.2 1.2l5.6 5.6M6.8 1.2l-5.6 5.6" stroke="#1f1f1f" stroke-width="1.9" stroke-linecap="round"/></svg>
<svg class="r" style="left:2827px;top:178px;" width="14" height="14" viewBox="0 0 14 14"><circle cx="7" cy="7" r="6.2" fill="#44546f"/><path d="M4.8 4.8l4.4 4.4M9.2 4.8l-4.4 4.4" stroke="#fff" stroke-width="1.5" stroke-linecap="round"/></svg>
<div class="t" style="left:2537px;top:215.2px;height:18px;line-height:18px;font-size:12.6px;font-weight:700;color:#44546f;">Page Owner(s)</div>
<div class="r" style="left:2537px;top:236px;width:340px;height:40px;border:1.5px solid #8590a2;border-radius:3px;box-sizing:border-box;background:#fff"></div>
<div class="t" style="left:2546px;top:246.0px;height:21px;line-height:21px;font-size:14.4px;font-weight:400;color:#626f86;">Any Page Owner</div>
<svg class="r" style="left:2853px;top:251px;" width="10" height="10" viewBox="0 0 10 10"><path d="M2.2 3.6L5 6.6 7.8 3.6" fill="none" stroke="#172b4d" stroke-width="1.7" stroke-linecap="round" stroke-linejoin="round"/></svg>
<div class="t" style="left:2537px;top:289.0px;height:24px;line-height:24px;font-size:15.7px;font-weight:700;color:#172b4d;">Classification Properties</div>
<div class="t" style="left:2537px;top:321.2px;height:18px;line-height:18px;font-size:12.6px;font-weight:700;color:#44546f;">Classification Level(s)</div>
<div class="r" style="left:2537px;top:342px;width:340px;height:40px;border:1.5px solid #8590a2;border-radius:3px;box-sizing:border-box;background:#fff"></div>
<div class="t" style="left:2546px;top:352.0px;height:21px;line-height:21px;font-size:14.4px;font-weight:400;color:#626f86;">Any Level</div>
<svg class="r" style="left:2853px;top:357px;" width="10" height="10" viewBox="0 0 10 10"><path d="M2.2 3.6L5 6.6 7.8 3.6" fill="none" stroke="#172b4d" stroke-width="1.7" stroke-linecap="round" stroke-linejoin="round"/></svg>
<div class="t" style="left:2537px;top:392.2px;height:18px;line-height:18px;font-size:12.6px;font-weight:700;color:#44546f;">Sub-level(s)</div>
<div class="r" style="left:2537px;top:413px;width:340px;height:40px;background:#f7f8f9;border-radius:3px"></div>
<div class="t" style="left:2546px;top:423.0px;height:21px;line-height:21px;font-size:14.4px;font-weight:400;color:#a5adba;">Any Sub-level</div>
<svg class="r" style="left:2853px;top:428px;" width="10" height="10" viewBox="0 0 10 10"><path d="M2.2 3.6L5 6.6 7.8 3.6" fill="none" stroke="#a5adba" stroke-width="1.7" stroke-linecap="round" stroke-linejoin="round"/></svg>
<div class="t" style="left:2537px;top:463.2px;height:18px;line-height:18px;font-size:12.6px;font-weight:700;color:#44546f;">Classifier(s)</div>
<div class="r" style="left:2537px;top:484px;width:340px;height:40px;border:1.5px solid #8590a2;border-radius:3px;box-sizing:border-box;background:#fff"></div>
<div class="t" style="left:2546px;top:494.0px;height:21px;line-height:21px;font-size:14.4px;font-weight:400;color:#626f86;">Any Classifier</div>
<svg class="r" style="left:2853px;top:499px;" width="10" height="10" viewBox="0 0 10 10"><path d="M2.2 3.6L5 6.6 7.8 3.6" fill="none" stroke="#172b4d" stroke-width="1.7" stroke-linecap="round" stroke-linejoin="round"/></svg>
<div class="t" style="left:2537px;top:534.2px;height:18px;line-height:18px;font-size:12.6px;font-weight:700;color:#44546f;">Classification Date</div>
<div class="t" style="left:2537px;top:554.2px;height:18px;line-height:18px;font-size:12.6px;font-weight:700;color:#44546f;">Date range</div>
<div class="t" style="left:2697.5px;top:554.2px;height:18px;line-height:18px;font-size:12.6px;font-weight:700;color:#44546f;">Start date</div>
<div class="t" style="left:2792.5px;top:554.2px;height:18px;line-height:18px;font-size:12.6px;font-weight:700;color:#44546f;">End date</div>
<div class="r" style="left:2537px;top:575px;width:150px;height:40px;border:1.5px solid #8590a2;border-radius:3px;box-sizing:border-box;background:#fff"></div>
<div class="t" style="left:2546px;top:585.0px;height:21px;line-height:21px;font-size:14.4px;font-weight:400;color:#172b4d;">All time</div>
<svg class="r" style="left:2663px;top:590px;" width="10" height="10" viewBox="0 0 10 10"><path d="M2.2 3.6L5 6.6 7.8 3.6" fill="none" stroke="#172b4d" stroke-width="1.7" stroke-linecap="round" stroke-linejoin="round"/></svg>
<div class="r" style="left:2697.5px;top:575px;width:84px;height:40px;background:#f7f8f9;border-radius:3px"></div>
<div class="t" style="left:2706.5px;top:584.5px;height:21px;line-height:21px;font-size:14.4px;font-weight:400;color:#a5adba;width:44px;overflow:hidden">Select.</div>
<svg class="r" style="left:2754px;top:586px;" width="18" height="18" viewBox="0 0 18 18"><rect x="1.2" y="3" width="15.6" height="14" rx="2" fill="#15263b"/><rect x="3" y="7.2" width="12" height="8" fill="#fff"/><rect x="4.2" y="0.8" width="2" height="4" rx="0.8" fill="#15263b"/><rect x="11.8" y="0.8" width="2" height="4" rx="0.8" fill="#15263b"/><rect x="4.4" y="8.6" width="2" height="2" fill="#15263b"/><rect x="4.4" y="11.9" width="2" height="2" fill="#15263b"/><rect x="7.8" y="8.6" width="2" height="2" fill="#15263b"/><rect x="7.8" y="11.9" width="2" height="2" fill="#15263b"/><rect x="11.2" y="8.6" width="2" height="2" fill="#15263b"/><rect x="11.2" y="11.9" width="2" height="2" fill="#15263b"/></svg>
<div class="r" style="left:2792.5px;top:575px;width:84px;height:40px;background:#f7f8f9;border-radius:3px"></div>
<div class="t" style="left:2801.5px;top:584.5px;height:21px;line-height:21px;font-size:14.4px;font-weight:400;color:#a5adba;width:44px;overflow:hidden">Select.</div>
<svg class="r" style="left:2849px;top:586px;" width="18" height="18" viewBox="0 0 18 18"><rect x="1.2" y="3" width="15.6" height="14" rx="2" fill="#15263b"/><rect x="3" y="7.2" width="12" height="8" fill="#fff"/><rect x="4.2" y="0.8" width="2" height="4" rx="0.8" fill="#15263b"/><rect x="11.8" y="0.8" width="2" height="4" rx="0.8" fill="#15263b"/><rect x="4.4" y="8.6" width="2" height="2" fill="#15263b"/><rect x="4.4" y="11.9" width="2" height="2" fill="#15263b"/><rect x="7.8" y="8.6" width="2" height="2" fill="#15263b"/><rect x="7.8" y="11.9" width="2" height="2" fill="#15263b"/><rect x="11.2" y="8.6" width="2" height="2" fill="#15263b"/><rect x="11.2" y="11.9" width="2" height="2" fill="#15263b"/></svg>
<div class="t" style="left:2537px;top:628.5px;height:24px;line-height:24px;font-size:15.8px;font-weight:700;color:#172b4d;">Detection Properties</div>
<div class="t" style="left:2537px;top:660.2px;height:18px;line-height:18px;font-size:12.6px;font-weight:700;color:#44546f;">Minimum Detections</div>
<div class="r" style="left:2537px;top:681px;width:340px;height:40px;border:1.5px solid #8590a2;border-radius:3px;box-sizing:border-box;background:#fff"></div>
<div class="t" style="left:2546px;top:691.0px;height:21px;line-height:21px;font-size:14.4px;font-weight:400;color:#172b4d;">1</div>
<div class="t" style="left:2537px;top:731.2px;height:18px;line-height:18px;font-size:12.6px;font-weight:700;color:#44546f;">Detector(s)</div>
<div class="r" style="left:2537px;top:752px;width:340px;height:40px;border:1.5px solid #8590a2;border-radius:3px;box-sizing:border-box;background:#fff"></div>
<svg class="r" style="left:2853px;top:767px;" width="10" height="10" viewBox="0 0 10 10"><path d="M2.2 3.6L5 6.6 7.8 3.6" fill="none" stroke="#172b4d" stroke-width="1.7" stroke-linecap="round" stroke-linejoin="round"/></svg>
<div class="r" style="left:2546px;top:762px;width:141px;height:20px;background:#f1f2f4;border-radius:3px"></div>
<div class="t" style="left:2552px;top:763.0px;height:18px;line-height:18px;font-size:12.6px;font-weight:400;color:#292a2e;">Credit Card Number</div>
<svg class="r" style="left:2673px;top:768.5px;" width="8" height="8" viewBox="0 0 8 8"><path d="M1.2 1.2l5.6 5.6M6.8 1.2l-5.6 5.6" stroke="#1f1f1f" stroke-width="1.9" stroke-linecap="round"/></svg>
<svg class="r" style="left:2827px;top:765px;" width="14" height="14" viewBox="0 0 14 14"><circle cx="7" cy="7" r="6.2" fill="#44546f"/><path d="M4.8 4.8l4.4 4.4M9.2 4.8l-4.4 4.4" stroke="#fff" stroke-width="1.5" stroke-linecap="round"/></svg>
<div class="t" style="left:2537px;top:801.7px;height:18px;line-height:18px;font-size:12.6px;font-weight:700;color:#44546f;">Detection Date</div>
<div class="t" style="left:2537px;top:821.7px;height:18px;line-height:18px;font-size:12.6px;font-weight:700;color:#44546f;">Date range</div>
<div class="t" style="left:2697.5px;top:821.7px;height:18px;line-height:18px;font-size:12.6px;font-weight:700;color:#44546f;">Start date</div>
<div class="t" style="left:2798.5px;top:821.7px;height:18px;line-height:18px;font-size:12.6px;font-weight:700;color:#44546f;">End date</div>
<div class="r" style="left:2537px;top:843px;width:150px;height:40px;border:1.5px solid #8590a2;border-radius:3px;box-sizing:border-box;background:#fff"></div>
<div class="t" style="left:2546px;top:853.0px;height:21px;line-height:21px;font-size:14.4px;font-weight:400;color:#172b4d;">Custom</div>
<svg class="r" style="left:2663px;top:858px;" width="10" height="10" viewBox="0 0 10 10"><path d="M2.2 3.6L5 6.6 7.8 3.6" fill="none" stroke="#172b4d" stroke-width="1.7" stroke-linecap="round" stroke-linejoin="round"/></svg>
<div class="r" style="left:2697.5px;top:843px;width:90px;height:40px;border:1.5px solid #8590a2;border-radius:3px;box-sizing:border-box"></div>
<div class="t" style="left:2706.5px;top:852.5px;height:21px;line-height:21px;font-size:14.4px;font-weight:400;color:#172b4d;">01/0...</div>
<svg class="r" style="left:2764px;top:856px;" width="14" height="14" viewBox="0 0 14 14"><circle cx="7" cy="7" r="6.2" fill="#44546f"/><path d="M4.8 4.8l4.4 4.4M9.2 4.8l-4.4 4.4" stroke="#fff" stroke-width="1.5" stroke-linecap="round"/></svg>
<div class="r" style="left:2798.5px;top:843px;width:78px;height:40px;border:1.5px solid #8590a2;border-radius:3px;box-sizing:border-box"></div>
<div class="t" style="left:2807px;top:852.5px;height:21px;line-height:21px;font-size:14.4px;font-weight:400;color:#626f86;width:35px;overflow:hidden">Select</div>
<svg class="r" style="left:2849px;top:854px;" width="18" height="18" viewBox="0 0 18 18"><rect x="1.2" y="3" width="15.6" height="14" rx="2" fill="#15263b"/><rect x="3" y="7.2" width="12" height="8" fill="#fff"/><rect x="4.2" y="0.8" width="2" height="4" rx="0.8" fill="#15263b"/><rect x="11.8" y="0.8" width="2" height="4" rx="0.8" fill="#15263b"/><rect x="4.4" y="8.6" width="2" height="2" fill="#15263b"/><rect x="4.4" y="11.9" width="2" height="2" fill="#15263b"/><rect x="7.8" y="8.6" width="2" height="2" fill="#15263b"/><rect x="7.8" y="11.9" width="2" height="2" fill="#15263b"/><rect x="11.2" y="8.6" width="2" height="2" fill="#15263b"/><rect x="11.2" y="11.9" width="2" height="2" fill="#15263b"/></svg>
<div class="r" style="left:271px;top:266px;width:28px;height:34px;border:3px solid #ff5f00;border-radius:2px;box-sizing:border-box"></div>
<div class="r" style="left:1684px;top:307px;width:825px;height:102px;border:3px solid #ff5f00;box-sizing:border-box;box-shadow:0 1px 3px rgba(0,0,0,0.15)"></div>
<svg class="r" style="left:290px;top:292px;filter:drop-shadow(0 1px 1.5px rgba(0,0,0,0.25))" width="60" height="50" viewBox="0 0 60 50"><path d="M7.5 8 L28 13.5 L21.5 18 L47 44 L43 48 L17.5 22 L13 28.5 Z" fill="#ff5f00"/></svg>
<div class="r" style="left:335.5px;top:333px;width:48.5px;height:49px;background:#ff5f00;border-radius:6px;box-shadow:0 1px 3px rgba(0,0,0,0.25)"></div>
<div class="t" style="left:335.5px;top:338.0px;height:40px;line-height:40px;font-size:35px;font-weight:700;color:#fff;width:48.5px;text-align:center">F</div>
<svg class="r" style="left:1610px;top:345px;filter:drop-shadow(0 1px 1.5px rgba(0,0,0,0.25))" width="78" height="26" viewBox="0 0 78 26"><path d="M4 10.6 L53 9.5 L53 2.5 L75 12.8 L53 23.5 L53 16.5 L4 15.2 Z" fill="#ff5f00"/></svg>
<div class="r" style="left:1566px;top:333px;width:49px;height:49px;background:#ff5f00;border-radius:6px;box-shadow:0 1px 3px rgba(0,0,0,0.25)"></div>
<div class="t" style="left:1566px;top:338.0px;height:40px;line-height:40px;font-size:35px;font-weight:700;color:#fff;width:49px;text-align:center">G</div>
<svg class="r" style="left:0px;top:1214px;" width="6" height="6" viewBox="0 0 6 6"><path d="M0 0.5 L5.5 6 L0 6z" fill="#c9bfd0"/></svg>
</body></html>
